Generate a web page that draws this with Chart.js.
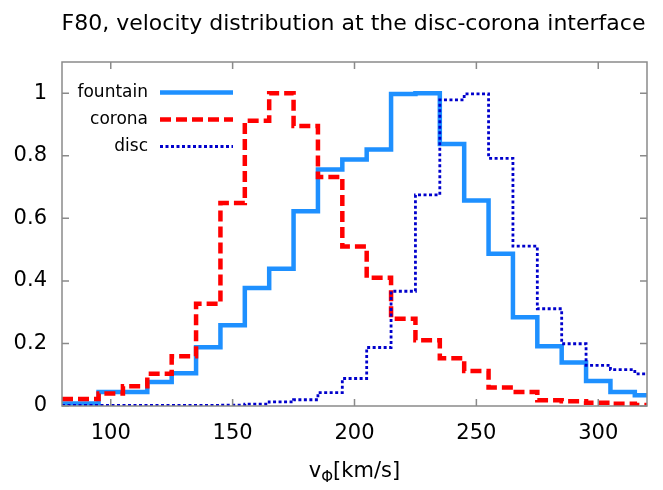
<!DOCTYPE html>
<html>
<head>
<meta charset="utf-8">
<script src="https://cdn.jsdelivr.net/npm/chart.js@4"></script>
<style>
  body { margin: 0; background: #fff; }
  #wrap { width: 663px; height: 490px; }
</style>
</head>
<body>
<div id="wrap"><canvas id="chart" width="663" height="490"></canvas></div>
<script>
// bin centres (km/s), bin width 10
const binCentres = [80, 90, 100, 110, 120, 130, 140, 150, 160, 170, 180, 190, 200,
  210, 220, 230, 240, 250, 260, 270, 280, 290, 300, 310, 320];

const fountain = [0.008, 0.008, 0.045, 0.045, 0.077, 0.105, 0.188, 0.258, 0.377, 0.439,
  0.623, 0.756, 0.788, 0.82, 0.998, 1.0, 0.838, 0.657, 0.487, 0.284, 0.191, 0.139,
  0.08, 0.045, 0.034];

const corona = [0.022, 0.022, 0.04, 0.063, 0.103, 0.159, 0.327, 0.649, 0.912, 1.0,
  0.895, 0.732, 0.51, 0.41, 0.279, 0.21, 0.153, 0.112, 0.059, 0.045, 0.018, 0.015,
  0.01, 0.007, 0.003];

const disc = [0.002, 0.002, 0.002, 0.002, 0.002, 0.002, 0.002, 0.003, 0.006, 0.013,
  0.02, 0.043, 0.088, 0.187, 0.367, 0.675, 0.979, 0.998, 0.792, 0.511, 0.311, 0.199,
  0.13, 0.116, 0.103];

const xTicks = [100, 150, 200, 250, 300];
const yTicks = [0, 0.2, 0.4, 0.6, 0.8, 1];

const FONT = "'DejaVu Sans', sans-serif";

function toPoints(values) {
  return binCentres.map((x, i) => ({ x: x, y: values[i] }));
}

const series = [
  { label: "fountain", data: fountain, color: "#1e90ff", width: 4.5, dash: [], order: 3 },
  { label: "corona", data: corona, color: "#ff0000", width: 4.5, dash: [11, 5], order: 2 },
  { label: "disc", data: disc, color: "#0000cc", width: 2.8, dash: [3, 2.5], order: 1 },
];

// border box, inward ticks, title, legend and axis title
const framePlugin = {
  id: "frame",
  afterDatasetsDraw(chart) {
    const ctx = chart.ctx;
    const a = chart.chartArea;
    const xs = chart.scales.x, ys = chart.scales.y;
    ctx.save();
    ctx.strokeStyle = "#8a8a8a";
    ctx.lineWidth = 1.5;
    ctx.setLineDash([]);
    ctx.strokeRect(a.left, a.top, a.right - a.left, a.bottom - a.top);
    const tl = 7;
    ctx.beginPath();
    xTicks.forEach((v) => {
      const px = xs.getPixelForValue(v);
      ctx.moveTo(px, a.bottom); ctx.lineTo(px, a.bottom - tl);
      ctx.moveTo(px, a.top); ctx.lineTo(px, a.top + tl);
    });
    yTicks.forEach((v) => {
      const py = ys.getPixelForValue(v);
      ctx.moveTo(a.left, py); ctx.lineTo(a.left + tl, py);
      ctx.moveTo(a.right, py); ctx.lineTo(a.right - tl, py);
    });
    ctx.stroke();

    // legend (text right aligned, sample line after)
    ctx.font = "17px " + FONT;
    ctx.textAlign = "right";
    ctx.textBaseline = "middle";
    series.forEach((s, i) => {
      const y = 92.5 + i * 27;
      ctx.fillStyle = "#000";
      ctx.fillText(s.label, 148, y);
      ctx.strokeStyle = s.color;
      ctx.lineWidth = s.width;
      ctx.setLineDash(s.dash);
      ctx.beginPath();
      ctx.moveTo(160, y); ctx.lineTo(233, y);
      ctx.stroke();
    });
    ctx.setLineDash([]);

    // title
    ctx.fillStyle = "#000";
    ctx.textAlign = "center";
    ctx.textBaseline = "alphabetic";
    ctx.font = "22px " + FONT;
    ctx.fillText("F80, velocity distribution at the disc-corona interface", 353.5, 29.5);

    // x axis title: v with subscript Phi
    const big = "21px " + FONT, small = "15px " + FONT;
    ctx.textAlign = "left";
    ctx.font = big; const w1 = ctx.measureText("v").width;
    ctx.font = small; const w2 = ctx.measureText("\u03A6").width;
    ctx.font = big; const w3 = ctx.measureText("[km/s]").width;
    let x0 = (a.left + a.right) / 2 - (w1 + w2 + w3) / 2;
    const base = 477;
    ctx.font = big; ctx.fillText("v", x0, base);
    ctx.font = small; ctx.fillText("\u03A6", x0 + w1, base + 5);
    ctx.font = big; ctx.fillText("[km/s]", x0 + w1 + w2, base);
    ctx.restore();
  },
};

new Chart(document.getElementById("chart"), {
  type: "line",
  data: {
    datasets: series.map((s) => ({
      label: s.label,
      data: toPoints(s.data),
      borderColor: s.color,
      borderWidth: s.width,
      borderDash: s.dash,
      borderCapStyle: "butt",
      borderJoinStyle: "miter",
      stepped: "middle",
      pointRadius: 0,
      fill: false,
      order: s.order,
    })),
  },
  options: {
    responsive: false,
    animation: false,
    layout: { padding: { top: 62, right: 16, bottom: 0, left: 0 } },
    plugins: {
      legend: { display: false },
      title: { display: false },
      tooltip: { enabled: false },
    },
    scales: {
      x: {
        type: "linear",
        min: 80,
        max: 320,
        grid: { display: false, drawTicks: false },
        border: { display: false },
        afterBuildTicks: (scale) => { scale.ticks = xTicks.map((v) => ({ value: v })); },
        afterFit: (scale) => { scale.height = 84; },
        ticks: {
          color: "#000",
          font: { family: FONT, size: 21 },
          padding: 15,
          maxRotation: 0,
          callback: (v) => String(v),
        },
      },
      y: {
        min: 0,
        max: 1.1,
        grid: { display: false, drawTicks: false },
        border: { display: false },
        afterBuildTicks: (scale) => { scale.ticks = yTicks.map((v) => ({ value: v })); },
        afterFit: (scale) => { scale.width = 62; },
        ticks: {
          color: "#000",
          font: { family: FONT, size: 21 },
          padding: 15,
          callback: (v) => String(v),
        },
      },
    },
  },
  plugins: [framePlugin],
});
</script>
</body>
</html>
